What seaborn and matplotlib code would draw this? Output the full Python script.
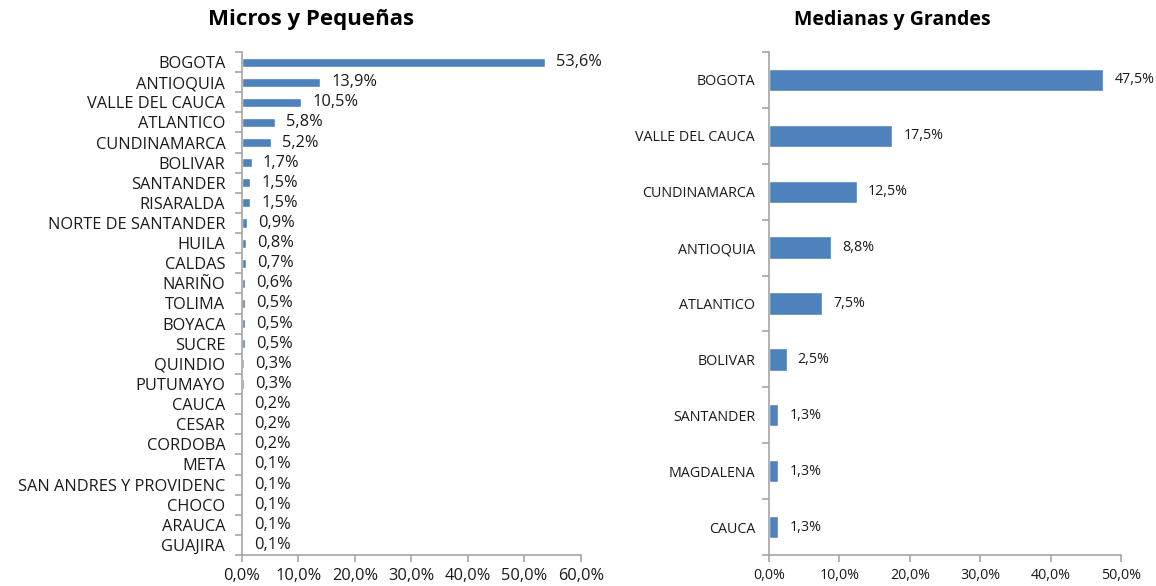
import numpy as np
import pandas as pd
import matplotlib
matplotlib.use("Agg")
import matplotlib.pyplot as plt
from matplotlib.ticker import FixedLocator, FuncFormatter
import seaborn as sns

# Data
micro_deptos = ["BOGOTA", "ANTIOQUIA", "VALLE DEL CAUCA", "ATLANTICO", "CUNDINAMARCA",
                "BOLIVAR", "SANTANDER", "RISARALDA", "NORTE DE SANTANDER", "HUILA",
                "CALDAS", "NARIÑO", "TOLIMA", "BOYACA", "SUCRE", "QUINDIO", "PUTUMAYO",
                "CAUCA", "CESAR", "CORDOBA", "META", "SAN ANDRES Y PROVIDENC", "CHOCO",
                "ARAUCA", "GUAJIRA"]
micro_pct = [53.6, 13.9, 10.5, 5.8, 5.2, 1.7, 1.5, 1.5, 0.9, 0.8, 0.7, 0.6, 0.5, 0.5,
             0.5, 0.3, 0.3, 0.2, 0.2, 0.2, 0.1, 0.1, 0.1, 0.1, 0.1]

grandes_deptos = ["BOGOTA", "VALLE DEL CAUCA", "CUNDINAMARCA", "ANTIOQUIA", "ATLANTICO",
                  "BOLIVAR", "SANTANDER", "MAGDALENA", "CAUCA"]
grandes_pct = [47.5, 17.5, 12.5, 8.8, 7.5, 2.5, 1.3, 1.3, 1.3]

bar_color = "#4F81BD"
axis_gray = "#A6A6A6"
text_color = "#1A1A1A"

sns.set_theme(style="white")
plt.rcParams['font.family'] = ['Open Sans', 'DejaVu Sans']


def comma_pct(v, _=None):
    return f"{v:.1f}%".replace(".", ",")


def draw_panel(ax, cats, vals, xmax, bar_width, fs, ypad):
    df = pd.DataFrame({"Depto": cats, "Pct": vals})
    sns.barplot(data=df, x="Pct", y="Depto", orient="h", color=bar_color,
                width=bar_width, saturation=1, ax=ax)
    ax.set_xlim(0, xmax)
    ax.set_ylim(len(cats) - 0.5, -0.5)
    ax.set_xlabel("")
    ax.set_ylabel("")
    ax.xaxis.set_major_locator(FixedLocator(np.arange(0, xmax + 0.1, 10)))
    ax.xaxis.set_major_formatter(FuncFormatter(comma_pct))
    for s in ["top", "right"]:
        ax.spines[s].set_visible(False)
    for s in ["left", "bottom"]:
        ax.spines[s].set_color(axis_gray)
        ax.spines[s].set_linewidth(1.2)
    # Excel-style ticks between categories
    ax.yaxis.set_minor_locator(FixedLocator(np.arange(-0.5, len(cats), 1.0)))
    ax.tick_params(axis="y", which="major", length=0, pad=ypad, labelsize=fs,
                   labelcolor=text_color)
    ax.tick_params(axis="y", which="minor", left=True, length=5, width=1.2,
                   color=axis_gray)
    ax.tick_params(axis="x", which="major", bottom=True, length=5, width=1.2,
                   color=axis_gray, labelsize=fs, labelcolor=text_color, pad=4)
    for container in ax.containers:
        ax.bar_label(container, labels=[comma_pct(v) for v in vals], padding=8,
                     fontsize=fs, color=text_color)


fig = plt.figure(figsize=(11.56, 5.86), dpi=100)
ax1 = fig.add_axes([0.2093, 0.0529, 0.2933, 0.8584])
ax2 = fig.add_axes([0.6652, 0.0529, 0.3045, 0.8584])

draw_panel(ax1, micro_deptos, micro_pct, 60, 0.45, 11.8, 12)
draw_panel(ax2, grandes_deptos, grandes_pct, 50, 0.4, 10.3, 10)

fig.text(311 / 1156, 1 - 20 / 586, "Micros y Pequeñas", ha="center", va="center",
         fontsize=16, fontweight="bold", color="black")
fig.text(892 / 1156, 1 - 20 / 586, "Medianas y Grandes", ha="center", va="center",
         fontsize=14, fontweight="bold", color="black")

fig.savefig("out.png", dpi=100, facecolor="white")
